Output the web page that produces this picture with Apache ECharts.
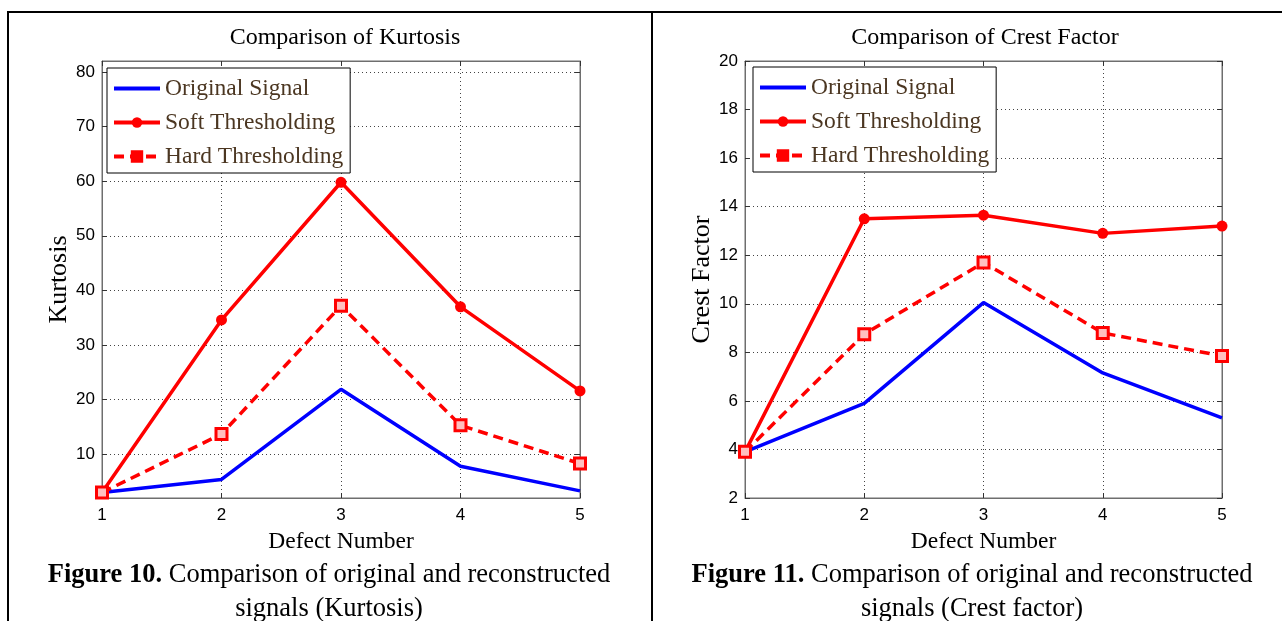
<!DOCTYPE html>
<html>
<head>
<meta charset="utf-8">
<script src="https://cdn.jsdelivr.net/npm/echarts@6/dist/echarts.min.js"></script>
<style>
html,body{margin:0;padding:0;background:#fff;}
#c{width:1282px;height:621px;}
</style>
</head>
<body>
<div id="c"></div>
<script>
// ---------- data ----------
const seriesNames = ['Original Signal', 'Soft Thresholding', 'Hard Thresholding'];
const defectNumbers = [1, 2, 3, 4, 5];
const kurtOriginal = [3.0, 5.4, 21.9, 7.8, 3.3];
const kurtSoft = [3.0, 34.6, 59.8, 37.0, 21.6];
const kurtHard = [3.0, 13.7, 37.2, 15.3, 8.3];
const crestOriginal = [3.9, 5.9, 10.05, 7.15, 5.3];
const crestSoft = [3.9, 13.5, 13.65, 12.9, 13.2];
const crestHard = [3.9, 8.75, 11.7, 8.8, 7.85];
const kurtTicks = [10, 20, 30, 40, 50, 60, 70, 80];
const crestTicks = [2, 4, 6, 8, 10, 12, 14, 16, 18, 20];
const xTicks = [1, 2, 3, 4, 5];
const titles = ['Comparison of Kurtosis', 'Comparison of Crest Factor'];
const yNames = ['Kurtosis', 'Crest Factor'];
const xName = 'Defect Number';
const captions = [
  ['Figure 10.', ' Comparison of original and reconstructed', 'signals (Kurtosis)'],
  ['Figure 11.', ' Comparison of original and reconstructed', 'signals (Crest factor)']
];

// ---------- layout ----------
const grids = [
  {left: 102, top: 61, width: 478, height: 437},
  {left: 745, top: 61, width: 477, height: 437}
];
const yRanges = [[2, 82], [2, 20]];
const yTickSets = [kurtTicks, crestTicks];
const legendPos = [{left: 107, top: 68}, {left: 753, top: 67}];
const yNameGaps = [29, 28];
const titleCenters = [340, 980];
const captionCenters = [329, 972];

const SERIF = "'Liberation Serif','DejaVu Serif',serif";
const SANS = "'Liberation Sans Narrow','Liberation Sans',Arial,sans-serif";
const BLUE = '#0000ff', RED = '#ff0000';

function pairs(vals){ return defectNumbers.map((x,i)=>[x, vals[i]]); }

const option = {
  animation: false,
  backgroundColor: '#fff',
  grid: grids.map(g => Object.assign({containLabel: false, show: true, borderColor: '#6e6e6e', borderWidth: 1, backgroundColor: 'transparent'}, g)),
  title: grids.map((g,i) => ({
    text: titles[i],
    left: titleCenters[i],
    top: 21,
    textAlign: 'center',
    textStyle: {fontFamily: SERIF, fontSize: 24, fontWeight: 'normal', color: '#000'}
  })),
  legend: grids.map((g,i) => ({
    orient: 'vertical',
    left: legendPos[i].left,
    top: legendPos[i].top,
    data: [
      {name: seriesNames[0], itemStyle: {opacity: 0}},
      {name: seriesNames[1]},
      {name: seriesNames[2], itemStyle: {color: RED, borderColor: RED}}
    ],
    itemWidth: 46,
    itemHeight: 13,
    itemGap: 9,
    padding: [8, 7, 4, 5],
    borderColor: '#000',
    borderWidth: 1,
    backgroundColor: '#fff',
    selectedMode: false,
    lineStyle: {width: 4},
    textStyle: {fontFamily: SERIF, fontSize: 23.5, color: '#4b3621', lineHeight: 25}
  })),
  xAxis: [],
  yAxis: [],
  series: [],
  graphic: []
};

grids.forEach((g, gi) => {
  const xBase = {
    gridIndex: gi, type: 'value', min: 1, max: 5, interval: 1
  };
  option.xAxis.push(Object.assign({}, xBase, {
    position: 'bottom',
    name: xName, nameLocation: 'middle', nameGap: 32,
    nameTextStyle: {fontFamily: SERIF, fontSize: 23.5, color: '#000'},
    axisLine: {show: true, lineStyle: {color: '#6e6e6e', width: 1}},
    axisTick: {show: true, inside: true, length: 5, lineStyle: {color: '#333'}},
    axisLabel: {show: true, margin: 9, fontFamily: SANS, fontSize: 17, color: '#000',
      customValues: xTicks},
    splitLine: {show: true, lineStyle: {color: '#444', width: 1, type: [1, 3]}}
  }));
  option.xAxis.push(Object.assign({}, xBase, {
    position: 'top',
    axisLine: {show: true, lineStyle: {color: '#6e6e6e', width: 1}},
    axisTick: {show: true, inside: true, length: 5, lineStyle: {color: '#333'}},
    axisLabel: {show: false},
    splitLine: {show: false}
  }));
  const yBase = {gridIndex: gi, type: 'value', min: yRanges[gi][0], max: yRanges[gi][1]};
  option.yAxis.push(Object.assign({}, yBase, {
    position: 'left',
    name: yNames[gi], nameLocation: 'middle', nameGap: yNameGaps[gi], nameRotate: 90,
    nameTextStyle: {fontFamily: SERIF, fontSize: 26, color: '#000'},
    axisLine: {show: true, lineStyle: {color: '#6e6e6e', width: 1}},
    axisTick: {show: true, inside: true, length: 5, lineStyle: {color: '#333'}, customValues: yTickSets[gi]},
    axisLabel: {show: true, margin: 7, fontFamily: SANS, fontSize: 17, color: '#000', customValues: yTickSets[gi]},
    splitLine: {show: true, lineStyle: {color: '#444', width: 1, type: [1, 3]}}
  }));
  option.yAxis.push(Object.assign({}, yBase, {
    position: 'right',
    axisLine: {show: true, lineStyle: {color: '#6e6e6e', width: 1}},
    axisTick: {show: true, inside: true, length: 5, lineStyle: {color: '#333'}, customValues: yTickSets[gi]},
    axisLabel: {show: false, customValues: yTickSets[gi]},
    splitLine: {show: false}
  }));
});

const dataSets = [
  [kurtOriginal, kurtSoft, kurtHard],
  [crestOriginal, crestSoft, crestHard]
];
dataSets.forEach((sets, gi) => {
  const xi = gi * 2, yi = gi * 2;
  option.series.push({
    name: seriesNames[0], type: 'line', xAxisIndex: xi, yAxisIndex: yi,
    data: pairs(sets[0]), symbol: 'none', color: BLUE,
    lineStyle: {color: BLUE, width: 3.5}, z: 3
  });
  option.series.push({
    name: seriesNames[1], type: 'line', xAxisIndex: xi, yAxisIndex: yi,
    data: pairs(sets[1]), symbol: 'circle', symbolSize: 11, color: RED,
    itemStyle: {color: RED}, lineStyle: {color: RED, width: 3.5}, z: 4
  });
  option.series.push({
    name: seriesNames[2], type: 'line', xAxisIndex: xi, yAxisIndex: yi,
    data: pairs(sets[2]), symbol: 'rect', symbolSize: 11, color: RED,
    itemStyle: {color: '#ffc0c0', borderColor: RED, borderWidth: 3},
    lineStyle: {color: RED, width: 3.5, type: [10, 6]}, z: 5
  });
});

// borders
option.graphic.push(
  {type: 'rect', shape: {x: 7, y: 11, width: 1275, height: 2}, style: {fill: '#000'}, silent: true},
  {type: 'rect', shape: {x: 7, y: 11, width: 2, height: 610}, style: {fill: '#000'}, silent: true},
  {type: 'rect', shape: {x: 651, y: 11, width: 2, height: 610}, style: {fill: '#000'}, silent: true}
);
// captions
captions.forEach((cap, i) => {
  option.graphic.push({
    type: 'text', silent: true,
    style: {
      x: captionCenters[i], y: 575,
      text: '{b|' + cap[0] + '}{r|' + cap[1] + '}',
      align: 'center', verticalAlign: 'middle',
      rich: {
        b: {fontFamily: SERIF, fontSize: 26.5, fontWeight: 'bold', fill: '#000'},
        r: {fontFamily: SERIF, fontSize: 26.5, fill: '#000'}
      }
    }
  });
  option.graphic.push({
    type: 'text', silent: true,
    style: {
      x: captionCenters[i], y: 609,
      text: cap[2], align: 'center', verticalAlign: 'middle',
      fontFamily: SERIF, fontSize: 26.5, fill: '#000'
    }
  });
});

const chart = echarts.init(document.getElementById('c'), null, {renderer: 'canvas'});
chart.setOption(option);
</script>
</body>
</html>
